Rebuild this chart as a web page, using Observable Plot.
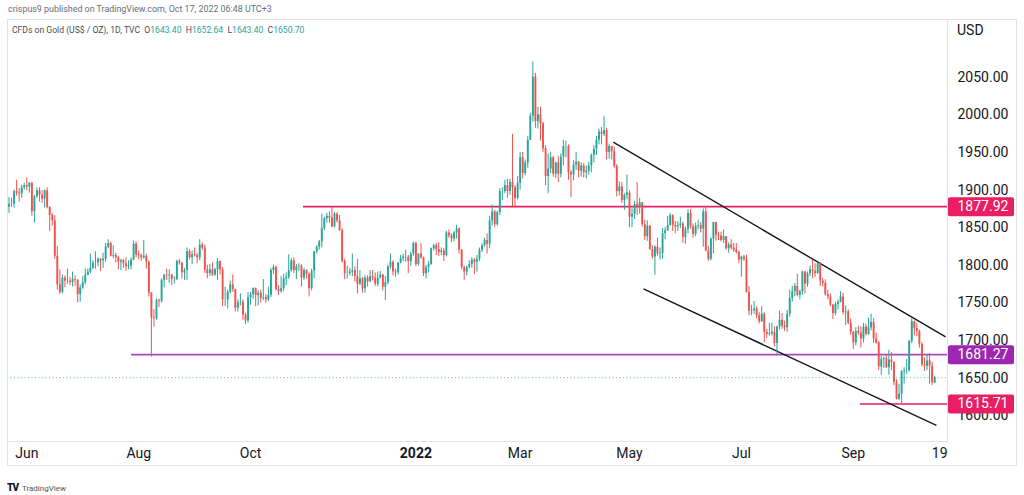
<!DOCTYPE html>
<html><head><meta charset="utf-8">
<script src="https://cdn.jsdelivr.net/npm/d3@7"></script>
<script src="https://cdn.jsdelivr.net/npm/@observablehq/plot@0.6"></script>
<style>
body{margin:0;background:#fff;width:1024px;height:495px;overflow:hidden;position:relative;font-family:Roboto,"DejaVu Sans",sans-serif;}
#pub{position:absolute;left:8px;top:4px;font-size:8.9px;color:#6a6d78;white-space:nowrap}
#chart{position:absolute;left:0;top:19px;}
#frame{position:absolute;left:7px;top:19px;width:1010px;height:447px;border:1px solid #e0e3eb;box-sizing:border-box;pointer-events:none}
#legend{position:absolute;left:12px;top:25px;font-size:8.6px;color:#4b4e59;white-space:pre}
#legend .v{color:#26a69a}
#usd{position:absolute;left:949px;top:20px;width:66px;height:16px;background:#fff;font-size:14px;color:#131722;padding-left:8px;line-height:20px;box-sizing:border-box}
#logo{position:absolute;left:7px;top:476px;white-space:nowrap}
</style></head>
<body>
<div id="pub">crispus9 published on TradingView.com, Oct 17, 2022 06:48 UTC+3</div>
<div id="chart"></div>
<div id="frame"></div>
<div id="legend">CFDs on Gold (US$ / OZ), 1D, TVC  O<span class="v">1643.40</span>  H<span class="v">1652.64</span>  L<span class="v">1643.40</span>  C<span class="v">1650.70</span></div>
<div id="usd">USD</div>
<div id="logo"><span style="font-weight:900;font-size:10px;letter-spacing:-1px;color:#131722">TV</span> <span style="font-size:8px;color:#50535e">TradingView</span></div>
<script>
// Daily candles, 21 May 2021 .. 17 Oct 2022 (bar index = trading-day position)
const opens = [
1877,1881,1881,1898,1896,1895,1903,1906,1904,1909,
1871,1891,1899,1893,1888,1899,1877,1866,1859,1812,
1774,1764,1783,1779,1779,1777,1781,1780,1761,1770,
1777,1787,1791,1796,1803,1803,1808,1806,1808,1824,
1829,1812,1813,1810,1804,1806,1802,1798,1799,1807,
1828,1814,1813,1810,1812,1804,1763,1730,1729,1753,
1752,1780,1787,1786,1787,1781,1781,1805,1803,1790,
1793,1818,1810,1814,1813,1810,1827,1823,1794,1789,
1794,1787,1794,1805,1794,1754,1754,1764,1774,1768,
1743,1750,1751,1734,1726,1757,1761,1769,1760,1763,
1756,1757,1754,1760,1793,1797,1768,1765,1769,1782,
1784,1793,1806,1793,1798,1799,1783,1793,1788,1769,
1792,1818,1824,1831,1849,1862,1865,1863,1851,1868,
1859,1846,1805,1789,1789,1791,1793,1785,1775,1782,
1769,1783,1778,1785,1783,1775,1783,1787,1771,1777,
1798,1804,1791,1790,1803,1809,1811,1811,1805,1815,
1829,1801,1815,1810,1789,1797,1801,1822,1826,1821,
1817,1819,1813,1843,1839,1835,1843,1848,1820,1797,
1791,1797,1801,1807,1804,1808,1820,1826,1833,1828,
1859,1871,1854,1870,1898,1898,1906,1898,1910,1903,
1889,1909,1943,1922,1936,1966,1998,2050,1991,2000,
1988,1955,1918,1928,1943,1921,1936,1921,1944,1958,
1958,1923,1920,1933,1937,1925,1932,1923,1925,1932,
1946,1954,1966,1977,1974,1979,1950,1958,1951,1931,
1898,1904,1886,1893,1896,1864,1868,1881,1877,1883,
1854,1838,1852,1821,1811,1824,1815,1816,1842,1846,
1853,1866,1853,1851,1853,1855,1837,1848,1869,1851,
1841,1852,1853,1848,1871,1819,1808,1835,1857,1840,
1839,1833,1838,1822,1827,1823,1820,1817,1807,1811,
1808,1764,1739,1740,1742,1733,1725,1735,1711,1708,
1709,1711,1696,1718,1727,1719,1717,1735,1756,1765,
1772,1760,1765,1791,1775,1789,1794,1792,1789,1802,
1779,1776,1761,1758,1747,1736,1748,1751,1758,1737,
1738,1723,1711,1697,1712,1710,1702,1718,1708,1717,
1724,1702,1697,1665,1675,1676,1664,1674,1671,1644,
1622,1629,1659,1660,1660,1699,1725,1716,1712,1695,
1668,1666,1673,1666,1643.4];
const highs = [
1890,1889,1900,1913,1902,1906,1909,1916,1910,1910,
1893,1903,1903,1899,1900,1903,1878,1869,1866,1825,
1794,1787,1786,1795,1784,1791,1786,1781,1774,1785,
1795,1795,1815,1806,1818,1810,1809,1816,1829,1834,
1831,1826,1816,1812,1808,1808,1810,1806,1810,1832,
1831,1819,1815,1833,1815,1806,1764,1741,1755,1755,
1782,1788,1795,1794,1788,1785,1807,1808,1803,1796,
1823,1821,1819,1823,1816,1834,1830,1827,1800,1801,
1803,1796,1809,1806,1797,1771,1767,1779,1787,1768,
1754,1762,1754,1736,1764,1764,1770,1770,1766,1767,
1781,1761,1771,1796,1800,1799,1773,1785,1788,1790,
1814,1809,1810,1801,1802,1801,1796,1794,1790,1795,
1818,1826,1833,1868,1864,1869,1871,1877,1870,1870,
1866,1849,1808,1799,1796,1815,1798,1808,1793,1784,
1786,1786,1793,1793,1790,1791,1792,1788,1785,1800,
1815,1806,1795,1804,1813,1815,1820,1813,1817,1831,
1831,1815,1829,1811,1800,1805,1823,1828,1829,1830,
1823,1822,1845,1847,1842,1845,1853,1850,1821,1799,
1799,1806,1810,1809,1813,1823,1829,1836,1842,1865,
1880,1873,1872,1902,1903,1913,1914,1914,1974,1906,
1918,1950,1950,1940,1971,2002,2070,2055,2010,2010,
1990,1959,1948,1950,1945,1937,1945,1948,1966,1965,
1960,1926,1939,1950,1938,1936,1935,1932,1937,1948,
1959,1971,1981,1983,1998,1982,1961,1958,1957,1934,
1911,1910,1895,1920,1899,1875,1885,1910,1889,1883,
1860,1859,1853,1826,1826,1836,1823,1849,1850,1865,
1869,1867,1858,1858,1864,1857,1851,1874,1874,1855,
1856,1860,1857,1875,1878,1825,1836,1857,1857,1844,
1844,1847,1838,1830,1834,1829,1829,1819,1812,1813,
1813,1772,1747,1752,1745,1737,1745,1737,1715,1723,
1723,1718,1719,1739,1736,1726,1740,1767,1772,1776,
1788,1767,1792,1792,1791,1799,1807,1802,1803,1803,
1783,1781,1767,1762,1748,1751,1754,1765,1763,1746,
1741,1729,1712,1717,1719,1718,1723,1722,1730,1735,
1729,1710,1699,1679,1678,1681,1687,1684,1672,1648,
1642,1660,1664,1675,1700,1729,1726,1723,1714,1697,
1677,1680,1683,1671,1652.64];
const lows = [
1869,1877,1876,1892,1884,1889,1900,1899,1896,1865,
1856,1889,1884,1882,1876,1875,1845,1852,1808,1767,
1761,1762,1770,1775,1773,1771,1772,1750,1751,1768,
1774,1786,1789,1794,1795,1798,1792,1796,1804,1822,
1811,1809,1803,1794,1793,1796,1792,1794,1794,1806,
1810,1807,1805,1808,1795,1758,1678,1718,1727,1744,
1750,1770,1780,1776,1773,1775,1780,1800,1782,1780,
1780,1807,1801,1811,1802,1806,1820,1789,1782,1785,
1785,1785,1780,1787,1745,1745,1742,1762,1764,1738,
1738,1746,1727,1721,1723,1747,1755,1745,1746,1750,
1753,1750,1752,1757,1788,1766,1760,1763,1765,1773,
1781,1791,1789,1781,1792,1771,1780,1782,1758,1766,
1782,1815,1820,1823,1846,1856,1856,1850,1850,1856,
1845,1803,1781,1782,1786,1785,1778,1762,1773,1763,
1763,1771,1777,1779,1772,1771,1782,1766,1753,1774,
1795,1786,1784,1787,1802,1805,1804,1789,1799,1812,
1798,1799,1808,1785,1782,1790,1800,1819,1813,1812,
1813,1805,1811,1836,1830,1831,1835,1815,1794,1780,
1786,1795,1796,1788,1791,1805,1817,1824,1815,1822,
1852,1850,1852,1866,1886,1895,1889,1893,1878,1878,
1887,1900,1915,1919,1929,1966,1990,1982,1981,1965,
1950,1906,1895,1922,1917,1915,1910,1916,1932,1943,
1913,1890,1912,1926,1916,1917,1916,1915,1920,1923,
1936,1946,1960,1960,1971,1940,1941,1940,1929,1891,
1892,1882,1873,1887,1850,1850,1861,1866,1868,1851,
1833,1832,1820,1808,1787,1812,1807,1808,1834,1845,
1852,1845,1842,1845,1849,1829,1828,1842,1848,1836,
1838,1847,1843,1824,1818,1805,1806,1815,1832,1833,
1831,1829,1820,1816,1820,1817,1815,1802,1784,1805,
1763,1733,1733,1735,1729,1722,1724,1697,1703,1706,
1706,1692,1681,1714,1715,1712,1711,1731,1751,1758,
1758,1754,1760,1762,1771,1785,1782,1784,1788,1772,
1771,1759,1754,1745,1728,1733,1741,1750,1734,1720,
1721,1707,1688,1693,1707,1690,1697,1706,1707,1713,
1696,1695,1660,1654,1663,1663,1654,1660,1640,1621,
1620,1615.7,1642,1655,1658,1696,1706,1705,1690,1665,
1659,1660,1642,1640,1643.4];
const closes = [
1881,1881,1898,1896,1895,1903,1906,1904,1909,1871,
1891,1899,1893,1888,1899,1877,1866,1859,1812,1774,
1764,1783,1779,1779,1777,1781,1780,1761,1770,1777,
1787,1791,1796,1803,1803,1808,1806,1808,1824,1829,
1812,1813,1810,1804,1806,1802,1798,1799,1807,1828,
1814,1813,1810,1812,1804,1763,1730,1729,1753,1752,
1780,1787,1786,1787,1781,1781,1805,1803,1790,1793,
1818,1810,1814,1813,1810,1827,1823,1794,1789,1794,
1787,1794,1805,1794,1754,1754,1764,1774,1768,1743,
1750,1751,1734,1726,1757,1761,1769,1760,1763,1756,
1757,1754,1760,1793,1797,1768,1765,1769,1782,1784,
1793,1806,1793,1798,1799,1783,1793,1788,1769,1792,
1818,1824,1831,1849,1862,1865,1863,1851,1868,1859,
1846,1805,1789,1789,1791,1793,1785,1775,1782,1769,
1783,1778,1785,1783,1775,1783,1787,1771,1777,1798,
1804,1791,1790,1803,1809,1811,1811,1805,1815,1829,
1801,1815,1810,1789,1797,1801,1822,1826,1821,1817,
1819,1813,1843,1839,1835,1843,1848,1820,1797,1791,
1797,1801,1807,1804,1808,1820,1826,1833,1828,1859,
1871,1854,1870,1898,1898,1906,1898,1910,1903,1889,
1909,1943,1922,1936,1966,1998,2050,1991,2000,1988,
1955,1918,1928,1943,1921,1936,1921,1944,1958,1958,
1923,1920,1933,1937,1925,1932,1923,1925,1932,1946,
1954,1966,1977,1974,1979,1950,1958,1951,1931,1898,
1904,1886,1893,1896,1864,1868,1881,1877,1883,1854,
1838,1852,1821,1811,1824,1815,1816,1842,1846,1853,
1866,1853,1851,1853,1855,1837,1848,1869,1851,1841,
1852,1853,1848,1871,1819,1808,1835,1857,1840,1839,
1833,1838,1822,1827,1823,1820,1817,1807,1811,1808,
1764,1739,1740,1742,1733,1725,1735,1711,1708,1709,
1711,1696,1718,1727,1719,1717,1735,1756,1765,1772,
1760,1765,1791,1775,1789,1794,1792,1789,1802,1779,
1776,1761,1758,1747,1736,1748,1751,1758,1737,1738,
1723,1711,1697,1712,1710,1702,1718,1708,1717,1724,
1702,1697,1665,1675,1676,1664,1674,1671,1644,1622,
1629,1659,1660,1660,1699,1725,1716,1712,1695,1668,
1666,1673,1666,1644,1650.7];

// time axis labels (bar index of first trading day of month; 19 = 19 Oct 2022)
const tickIdx = [7, 51, 95, 160, 201, 244, 288, 332, 366];
const tickText = ["Jun", "Aug", "Oct", "2022", "Mar", "May", "Jul", "Sep", "19"];
// price axis
const priceTicks = [1600, 1650, 1700, 1750, 1800, 1850, 1900, 1950, 2000, 2050];

// horizontal levels and where they start (bar index)
const levelPrices = [1877.92, 1681.27, 1615.71];
const levelStart = [115.8, 48.2, 334.8];
// descending channel lines: [start bar, start price, end bar, end price]
const channelUpper = [237.6, 1963.6, 368.3, 1704.8];
const channelLower = [249.5, 1768.6, 364.7, 1587.2];

// ---- layout / style ----
const xDomain = [-0.59, 369.05];
const yDomain = [1565.9, 2126.6];
const UP = "#26a69a", DOWN = "#ef5350";
const levelColors = ["#e91e63", "#ab47bc", "#e91e63"];
const boxColors = ["#e91e63", "#9c27b0", "#e91e63"];

const bars = closes.map((c, i) => ({i, o: opens[i], h: highs[i], l: lows[i], c}));
const candleColor = d => d.c >= d.o ? UP : DOWN;
const ticks = tickIdx.map((t, k) => ({t, s: tickText[k]}));
const levels = levelPrices.map((p, k) => ({p, x1: levelStart[k], x2: xDomain[1], k}));
const lastClose = closes[closes.length - 1];

const boxSym = {draw(ctx) {
  const w = 33, h = 9.5, r = 2;
  ctx.moveTo(-w + r, -h); ctx.lineTo(w - r, -h); ctx.arcTo(w, -h, w, -h + r, r);
  ctx.lineTo(w, h - r); ctx.arcTo(w, h, w - r, h, r); ctx.lineTo(-w + r, h);
  ctx.arcTo(-w, h, -w, h - r, r); ctx.lineTo(-w, -h + r); ctx.arcTo(-w, -h, -w + r, -h, r);
  ctx.closePath();
}};

const levelMarks = levels.map(L =>
  Plot.ruleY([L], {y: "p", x1: "x1", x2: "x2", stroke: levelColors[L.k], strokeWidth: 1.7})
);
const boxMarks = levels.flatMap(L => [
  Plot.dot([L], {y: "p", frameAnchor: "right", dx: 33.5, symbol: boxSym, r: 5, fill: boxColors[L.k], stroke: "none"}),
  Plot.text([L], {y: "p", frameAnchor: "right", dx: 10, textAnchor: "start", fill: "white", fontSize: 14, text: d => d.p.toFixed(2)})
]);

const chart = Plot.plot({
  width: 1024, height: 447,
  marginLeft: 7, marginRight: 77, marginTop: 0, marginBottom: 25,
  x: {domain: xDomain, axis: null},
  y: {domain: yDomain, axis: null},
  color: {type: "identity"},
  style: {fontFamily: "Roboto, 'DejaVu Sans', sans-serif", fontSize: "14px", background: "white"},
  marks: [
    Plot.frame({stroke: "#e0e3eb"}),
    Plot.axisY(priceTicks, {anchor: "right", tickSize: 0, tickPadding: 10, tickFormat: d => d.toFixed(2), fontSize: 14, fill: "#131722", label: null}),
    Plot.text(ticks.filter(d => d.s !== "2022"), {x: "t", text: "s", frameAnchor: "bottom", dy: 12, lineAnchor: "middle", fontSize: 14, fill: "#131722"}),
    Plot.text(ticks.filter(d => d.s === "2022"), {x: "t", text: "s", frameAnchor: "bottom", dy: 12, lineAnchor: "middle", fontSize: 14, fontWeight: "bold", fill: "#131722"}),
    Plot.ruleY([lastClose], {stroke: UP, strokeDasharray: "1,2.5", strokeWidth: 1, strokeOpacity: 0.7}),
    ...levelMarks,
    Plot.link([channelUpper, channelLower], {x1: d => d[0], y1: d => d[1], x2: d => d[2], y2: d => d[3], stroke: "#131722", strokeWidth: 1.4}),
    Plot.ruleX(bars, {x: "i", y1: "l", y2: "h", stroke: candleColor, strokeWidth: 1}),
    Plot.ruleX(bars, {x: "i", y1: "o", y2: "c", stroke: candleColor, strokeWidth: 1.9}),
    ...boxMarks
  ]
});
document.getElementById("chart").appendChild(chart);
</script>
</body></html>
